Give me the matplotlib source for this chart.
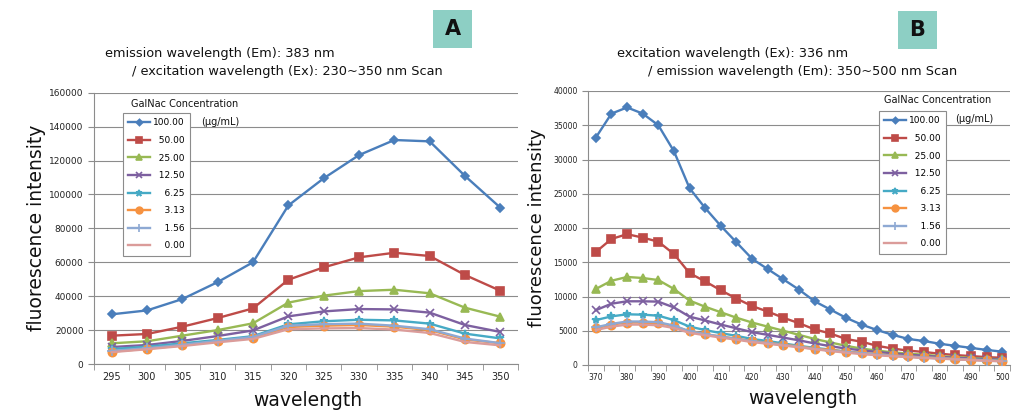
import numpy as np
import matplotlib
matplotlib.use("Agg")
import matplotlib.pyplot as plt
from matplotlib.patches import Rectangle
from matplotlib import font_manager

# ---- data -------------------------------------------------------------
conc_labels = ["100.00", "50.00", "25.00", "12.50", "6.25", "3.13", "1.56", "0.00"]

# panel A: excitation scan, emission fixed at 383 nm
wl_a = [295, 300, 305, 310, 315, 320, 325, 330, 335, 340, 345, 350]
a_100 = [29300, 31600, 38300, 48300, 60000, 93500, 109500, 123200, 132100, 131300, 110900, 92200]
a_50 = [16700, 17700, 22000, 27100, 32800, 49700, 57000, 62900, 65600, 63700, 52500, 43200]
a_25 = [12200, 13400, 16700, 20000, 24000, 36200, 40300, 43000, 43800, 41700, 33200, 27900]
a_12 = [10000, 11200, 13600, 16500, 19800, 28100, 31000, 32400, 32200, 30300, 23000, 18900]
a_6 = [8800, 10200, 12200, 14200, 16400, 23400, 25200, 26100, 25700, 23800, 17900, 15100]
a_3 = [7300, 9000, 11000, 13400, 15500, 21800, 22600, 23000, 22000, 20000, 14500, 12200]
a_1 = [7700, 9300, 11300, 13700, 15900, 22600, 23500, 23800, 22600, 20500, 15000, 12300]
a_0 = [7000, 8700, 10600, 12800, 14800, 20500, 21000, 21200, 20300, 18300, 13000, 11000]

# panel B: emission scan, excitation fixed at 336 nm
wl_b = list(range(370, 501, 5))
b_100 = [33200, 36700, 37600, 36700, 35000, 31200, 25800, 22900, 20300, 17900, 15500, 14000, 12500,
         11000, 9300, 8100, 6900, 5900, 5100, 4400, 3800, 3500, 3100, 2800, 2500, 2200, 1950]
b_50 = [16500, 18400, 19100, 18600, 18000, 16200, 13400, 12200, 10900, 9700, 8600, 7800, 6900,
        6100, 5200, 4600, 3800, 3400, 2800, 2400, 2100, 1900, 1650, 1450, 1300, 1150, 1050]
b_25 = [11100, 12300, 12850, 12700, 12400, 11100, 9400, 8500, 7700, 6900, 6200, 5600, 5000,
        4400, 3800, 3300, 2800, 2400, 2100, 1850, 1650, 1500, 1300, 1150, 1050, 920, 830]
b_12 = [8000, 8950, 9300, 9300, 9250, 8400, 7050, 6500, 5900, 5350, 4800, 4400, 4000,
        3600, 3150, 2750, 2400, 2150, 1900, 1700, 1500, 1350, 1200, 1050, 950, 870, 780]
b_6 = [6550, 7100, 7400, 7350, 7200, 6550, 5600, 5100, 4650, 4250, 3800, 3500, 3150,
       2800, 2500, 2250, 1950, 1750, 1550, 1400, 1250, 1100, 1000, 900, 820, 720, 670]
b_3 = [5350, 5900, 6200, 6200, 6100, 5700, 4900, 4500, 4150, 3850, 3500, 3250, 2950,
       2700, 2400, 2200, 1950, 1750, 1550, 1400, 1250, 1100, 1000, 880, 780, 680, 580]
b_1 = [5500, 6000, 6350, 6350, 6250, 5750, 4900, 4500, 4150, 3800, 3450, 3200, 2900,
       2650, 2350, 2100, 1900, 1700, 1500, 1350, 1200, 1080, 980, 850, 750, 650, 560]
b_0 = [5100, 5600, 5900, 5900, 5800, 5400, 4700, 4350, 4000, 3700, 3350, 3100, 2850,
       2600, 2300, 2050, 1800, 1600, 1420, 1280, 1150, 1030, 930, 820, 720, 620, 530]

series_a = [a_100, a_50, a_25, a_12, a_6, a_3, a_1, a_0]
series_b = [b_100, b_50, b_25, b_12, b_6, b_3, b_1, b_0]

# Excel-2007 like series styles
colors = ["#4A7EBB", "#BE4B48", "#98B954", "#7D60A0", "#46AAC5", "#F69240", "#8EA9D3", "#DB9C9A"]
markers = ["D", "s", "^", "x", "*", "o", "+", None]
msizes = [4, 6, 6, 6, 6, 6, 7, 0]

GRID = "#8c8c8c"
# a condensed face for the axis titles / category labels, if one is around
_names = {f.name for f in font_manager.fontManager.ttflist}
NARROW = "Liberation Sans Narrow" if "Liberation Sans Narrow" in _names else "DejaVu Sans"

fig = plt.figure(figsize=(10.36, 4.18), dpi=100)


def draw_panel(rect, wl, series, ymax, ystep, label_every, xt_size, yt_size):
    ax = fig.add_axes(rect)
    idx = np.arange(len(wl))
    handles = []
    for vals, c, m, ms, lab in zip(series, colors, markers, msizes, conc_labels):
        h, = ax.plot(idx, vals, color=c, lw=1.7, marker=m, ms=ms, mew=1.2,
                     label=lab, zorder=3)
        handles.append(h)
    ax.set_xlim(-0.5, len(wl) - 0.5)
    ax.set_ylim(0, ymax)
    ax.set_yticks(np.arange(0, ymax + 1, ystep))
    ax.yaxis.grid(True, color=GRID, lw=0.8)
    ax.set_axisbelow(True)
    for s in ["top", "right"]:
        ax.spines[s].set_visible(False)
    for s in ["left", "bottom"]:
        ax.spines[s].set_color(GRID)
        ax.spines[s].set_linewidth(0.8)
    # category axis: labels on categories, tick marks between them
    ax.set_xticks(idx[::label_every])
    ax.set_xticklabels([str(w) for w in wl[::label_every]], fontsize=xt_size, family=NARROW)
    ax.set_xticks(np.arange(-0.5, len(wl), 1), minor=True)
    ax.tick_params(axis="x", which="major", length=0, pad=6, colors="#222222")
    ax.tick_params(axis="x", which="minor", length=4, color=GRID)
    ax.tick_params(axis="y", length=4, color=GRID, labelsize=yt_size, labelcolor="#222222")
    return ax, handles


W, H = 1036.0, 418.0

def fx(px):
    return px / W

def fy(py):
    return 1 - py / H

# panel A
axA, hA = draw_panel([fx(94), fy(364), fx(518 - 94), (364 - 92.7) / H],
                     wl_a, series_a, 160000, 20000, 1, 7, 6.5)
# panel B
axB, hB = draw_panel([fx(588), fy(365), fx(1010 - 588), (365 - 91) / H],
                     wl_b, series_b, 40000, 5000, 2, 5.5, 5.5)

# axis labels
fig.text(fx(37), fy(228), "fluorescence intensity", rotation=90, ha="center", va="center",
         fontsize=13.5, color="#111111")
fig.text(fx(537), fy(228), "fluorescence intensity", rotation=90, ha="center", va="center",
         fontsize=13, color="#111111")
fig.text(fx(308), fy(401), "wavelength", ha="center", va="center", fontsize=13.5,
         family=NARROW, color="#111111")
fig.text(fx(803), fy(399), "wavelength", ha="center", va="center", fontsize=13.5,
         family=NARROW, color="#111111")

# panel titles
fig.text(fx(105), fy(53), "emission wavelength (Em): 383 nm", ha="left", va="center",
         fontsize=9.3, color="#111111")
fig.text(fx(132), fy(72), "/ excitation wavelength (Ex): 230~350 nm Scan", ha="left",
         va="center", fontsize=9.3, color="#111111")
fig.text(fx(617), fy(53), "excitation wavelength (Ex): 336 nm", ha="left", va="center",
         fontsize=9.3, color="#111111")
fig.text(fx(648), fy(72), "/ emission wavelength (Em): 350~500 nm Scan", ha="left",
         va="center", fontsize=9.3, color="#111111")

# panel letters
for x0, y0, letter in [(433, 10, "A"), (898, 11, "B")]:
    fig.patches.append(Rectangle((fx(x0), fy(y0 + 38)), fx(39), 38 / H,
                                 transform=fig.transFigure, facecolor="#8DCFC4",
                                 edgecolor="none"))
    fig.text(fx(x0 + 19.5), fy(y0 + 19), letter, ha="center", va="center",
             fontsize=15, fontweight="bold", family=NARROW, color="#111111")

# legends
pad_labels = [lab.rjust(6, "\u2007") for lab in conc_labels]
for handles, (lx, ly), (tx, ty), (ux, uy) in [
        (hA, (123, 113), (131, 104), (201, 122)),
        (hB, (879, 111), (884, 100), (955, 119))]:
    leg = fig.legend(handles, pad_labels, loc="upper left",
                     bbox_to_anchor=(fx(lx), fy(ly)), bbox_transform=fig.transFigure,
                     borderaxespad=0, fontsize=6.5, frameon=True, fancybox=False,
                     edgecolor=GRID, framealpha=1, handlelength=2.4, labelspacing=0.95,
                     handletextpad=0.3, borderpad=0.6, markerscale=0.8)
    leg.get_frame().set_linewidth(0.8)
    fig.text(fx(tx), fy(ty), "GalNac Concentration", ha="left", va="center",
             fontsize=7, color="#111111")
    fig.text(fx(ux), fy(uy), "(\u03bcg/mL)", ha="left", va="center",
             fontsize=7, color="#111111")

fig.savefig("out.png", dpi=100)
